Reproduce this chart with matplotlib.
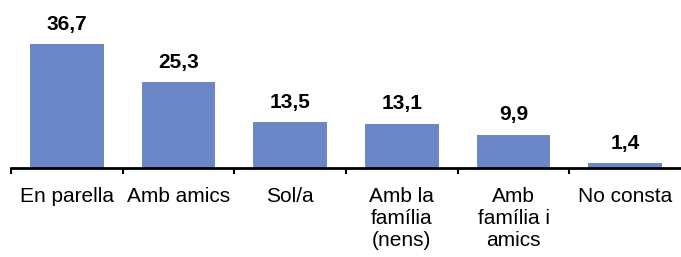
import matplotlib.pyplot as plt
import numpy as np

# categories and values
categories = ["En parella", "Amb amics", "Sol/a", "Amb la\nfamília\n(nens)", "Amb\nfamília i\namics", "No consta"]
values = [36.7, 25.3, 13.5, 13.1, 9.9, 1.4]
value_labels = ["36,7", "25,3", "13,5", "13,1", "9,9", "1,4"]

plt.rcParams['font.family'] = ['Liberation Sans', 'DejaVu Sans']

fig = plt.figure(figsize=(6.81, 2.57), dpi=100)
ax = fig.add_axes([11 / 681, 89 / 257, 1 - 11 / 681, 168 / 257])

x = np.arange(len(categories))
bars = ax.bar(x, values, width=0.66, color="#6b87c7", zorder=2)

for b, lab in zip(bars, value_labels):
    ax.annotate(lab, (b.get_x() + b.get_width() / 2, b.get_height()),
                xytext=(0, 7.5), textcoords="offset points",
                ha="center", va="bottom", fontsize=15, fontweight="bold")

ax.set_xlim(-0.5, 5.5)
ax.set_ylim(0, 49.7)

ax.set_xticks(x)
ax.set_xticklabels(categories, fontsize=15, linespacing=1.2)
ax.tick_params(axis="x", which="major", length=0, pad=14)
ax.set_xticks(np.arange(-0.5, 5.5, 1.0), minor=True)
ax.tick_params(axis="x", which="minor", length=4.5, width=1.5, direction="out")

ax.set_yticks([])
for s in ["top", "right", "left"]:
    ax.spines[s].set_visible(False)
ax.spines["bottom"].set_linewidth(2)

fig.savefig("out.png", dpi=100)
